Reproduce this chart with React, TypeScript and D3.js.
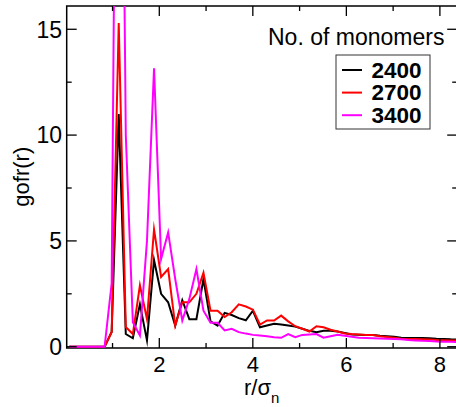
import React from "react";
import * as d3 from "d3";

const DR = 0.151;
const rValues: number[] = d3.range(56).map((i) => (i + 0.5) * DR);

const g2400: number[] = [
  0, 0, 0, 0, 0, 0, 0.7, 11.0, 0.6, 0.4, 2.0, 0.3, 4.1, 2.5, 2.1, 1.0, 2.2, 1.3, 1.3, 3.2,
  1.2, 1.0, 1.6, 1.5, 1.35, 1.25, 1.7, 0.92, 1.0, 1.08, 1.05, 1.0, 0.95, 0.85, 0.75, 0.69, 0.75, 0.75, 0.72, 0.65,
  0.58, 0.57, 0.56, 0.55, 0.52, 0.5, 0.47, 0.42, 0.41, 0.41, 0.41, 0.4, 0.38, 0.37, 0.35, 0.34,
];
const g2700: number[] = [
  0, 0, 0, 0, 0, 0, 0.7, 15.3, 0.93, 0.6, 2.9, 1.3, 5.55, 3.3, 3.67, 1.0, 2.1, 2.1, 2.5, 3.5,
  1.7, 1.7, 1.4, 1.63, 2.0, 1.9, 1.75, 1.05, 1.24, 1.24, 1.47, 1.2, 0.97, 0.85, 0.72, 0.97, 0.92, 0.8, 0.72, 0.63,
  0.6, 0.58, 0.56, 0.55, 0.5, 0.46, 0.42, 0.38, 0.37, 0.36, 0.35, 0.34, 0.32, 0.31, 0.3, 0.3,
];
const g3400: number[] = [
  0, 0, 0, 0, 0, 0, 3.0, 45, 10, 1.16, 0.53, 5.0, 13.16, 4.14, 5.4, 3.2, 1.24, 2.26, 3.67, 1.7,
  1.13, 1.13, 0.77, 0.85, 0.69, 0.62, 0.56, 0.53, 0.5, 0.45, 0.42, 0.6, 0.45, 0.56, 0.58, 0.6, 0.43, 0.5, 0.56, 0.52,
  0.47, 0.42, 0.41, 0.4, 0.39, 0.38, 0.37, 0.35, 0.32, 0.3, 0.28, 0.27, 0.25, 0.24, 0.23, 0.22,
];

const seriesNames: string[] = ["2400", "2700", "3400"];
const seriesColors: string[] = ["#000000", "#ff0000", "#ff00ff"];
const seriesData: number[][] = [g2400, g2700, g3400];

const xTickLabels: number[] = [2, 4, 6, 8];
const yTickLabels: number[] = [0, 5, 10, 15];
const legendTitle = "No. of monomers";

const W = 456;
const H = 407;
const FONT = "'Liberation Sans', Arial, Helvetica, sans-serif";

export default function App() {
  const x = d3.scaleLinear().domain([0.02, 8.37]).range([66.7, 457.2]);
  const y = d3.scaleLinear().domain([-0.06, 16.1]).range([348, 6]);
  const [x0, x1] = x.range();
  const [yb, yt] = y.range();

  const line = d3
    .line<number>()
    .x((_, i) => x(rValues[i]))
    .y((d) => y(d));

  const xMinor = d3.range(1, 9).filter((v) => v % 2 === 1);
  const xMajor = d3.range(2, 9, 2);
  const yMajor = d3.range(0, 16, 5);
  const yMinor = d3.range(2.5, 16, 5);

  const tick = (k: string, x1_: number, y1_: number, x2_: number, y2_: number) => (
    <line key={k} x1={x1_} y1={y1_} x2={x2_} y2={y2_} stroke="#000" strokeWidth={1.3} />
  );

  return (
    <svg
      width={W}
      height={H}
      style={{ position: "fixed", left: 0, top: 0, background: "#fff" }}
      fontFamily={FONT}
    >
      <defs>
        <clipPath id="plotclip">
          <rect x={x0} y={yt} width={x1 - x0} height={yb - yt} />
        </clipPath>
      </defs>
      <rect x={0} y={0} width={W} height={H} fill="#fff" />

      {/* frame */}
      <rect x={x0} y={yt} width={x1 - x0} height={yb - yt} fill="none" stroke="#000" strokeWidth={1.5} />

      <g clipPath="url(#plotclip)">
        {seriesData.map((s, k) => (
          <path
            key={k}
            d={line(s) || ""}
            fill="none"
            stroke={seriesColors[k]}
            strokeWidth={2}
            strokeLinejoin="miter"
            strokeMiterlimit={20}
          />
        ))}
      </g>

      {/* x ticks (bottom & top, inward) */}
      {xMajor.map((v) => tick("xb" + v, x(v), yb, x(v), yb - 10))}
      {xMinor.map((v) => tick("xbm" + v, x(v), yb, x(v), yb - 5))}
      {xMajor.map((v) => tick("xt" + v, x(v), yt, x(v), yt + 10))}
      {xMinor.map((v) => tick("xtm" + v, x(v), yt, x(v), yt + 5))}
      {/* y ticks (left & right, inward) */}
      {yMajor.map((v) => tick("yl" + v, x0, y(v), x0 + 10, y(v)))}
      {yMinor.map((v) => tick("ylm" + v, x0, y(v), x0 + 5, y(v)))}
      {yMajor.map((v) => tick("yr" + v, x1, y(v), x1 - 10, y(v)))}
      {yMinor.map((v) => tick("yrm" + v, x1, y(v), x1 - 5, y(v)))}

      {/* tick labels */}
      {xTickLabels.map((v) => (
        <text key={"xl" + v} x={x(v)} y={372} fontSize={22} textAnchor="middle" fill="#000">
          {v}
        </text>
      ))}
      {yTickLabels.map((v) => (
        <text key={"yl" + v} x={62} y={y(v)} dy="0.36em" fontSize={23} textAnchor="end" fill="#000">
          {v}
        </text>
      ))}

      {/* axis titles */}
      <text
        transform={`translate(29,176.7) rotate(-90)`}
        fontSize={22}
        textAnchor="middle"
        fill="#000"
      >
        gofr(r)
      </text>
      <text x={244} y={395} fontSize={22} fill="#000">
        r/σ
        <tspan fontSize={15} dy={8}>
          n
        </tspan>
      </text>

      {/* legend */}
      <text x={268} y={45} fontSize={23} fill="#000">
        {legendTitle}
      </text>
      <rect x={336} y={55} width={94} height={74} fill="#fff" stroke="#333" strokeWidth={1} />
      {seriesNames.map((n, k) => (
        <g key={n}>
          <line
            x1={342}
            x2={362}
            y1={70 + k * 22.6}
            y2={70 + k * 22.6}
            stroke={seriesColors[k]}
            strokeWidth={2}
          />
          <text x={371.5} y={77.5 + k * 22.6} fontSize={22.5} fontWeight="bold" fill="#000">
            {n}
          </text>
        </g>
      ))}
    </svg>
  );
}
